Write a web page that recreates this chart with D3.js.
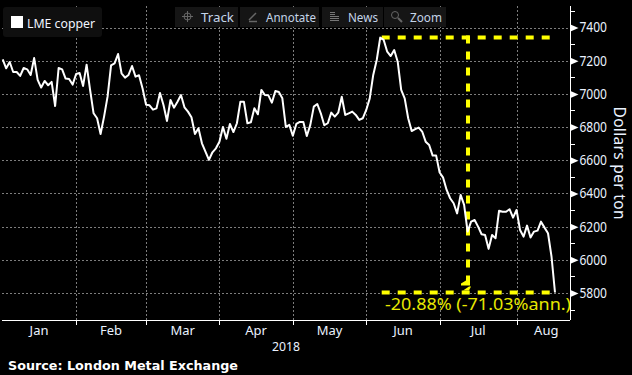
<!DOCTYPE html>
<html>
<head>
<meta charset="utf-8">
<script src="https://cdn.jsdelivr.net/npm/d3@7"></script>
<style>
  html, body { margin: 0; padding: 0; background: #000; overflow: hidden; }
  text { font-family: "Noto Sans", "DejaVu Sans", sans-serif; }
</style>
</head>
<body>
<div id="okvir"></div>
<script>
// LME copper prices, one per trading day from 3 Jan 2018
const copperPrices = [
  7208, 7154, 7192, 7132, 7132, 7108, 7156, 7148, 7114, 7216,
  7084, 7038, 7078, 7052, 7072, 6927, 7156, 7148, 7092, 7090,
  7056, 7120, 7126, 7048, 7176, 7024, 6883, 6853, 6758, 6863,
  6983, 7172, 7184, 7240, 7124, 7098, 7114, 7168, 7104, 7112,
  7034, 6935, 6931, 6905, 6913, 7005, 6933, 6837, 6963, 6917,
  6953, 6993, 6919, 6893, 6859, 6758, 6793, 6702, 6652, 6602,
  6648, 6672, 6712, 6801, 6730, 6819, 6770, 6823, 6953, 6953,
  6823, 6829, 6913, 6877, 7024, 6993, 6991, 6947, 7017, 7011,
  6973, 6801, 6813, 6748, 6819, 6831, 6831, 6746, 6813, 6923,
  6939, 6883, 6811, 6823, 6887, 6863, 6887, 6983, 6873, 6883,
  6893, 6873, 6843, 6853, 6903, 6973, 7114, 7204, 7339, 7325,
  7254, 7228, 7264, 7194, 7024, 6973, 6853, 6776, 6787, 6797,
  6773, 6712, 6692, 6628, 6628, 6526, 6495, 6421, 6371, 6341,
  6280, 6391, 6331, 6170, 6230, 6240, 6200, 6154, 6150, 6066,
  6150, 6130, 6296, 6290, 6290, 6305, 6254, 6300, 6180, 6140,
  6206, 6134, 6170, 6176, 6230, 6194, 6160, 6020, 5803,
]
const lmeHolidays = ["2018-03-30", "2018-05-07", "2018-05-28"]
const monthLabels = ["Jan", "Feb", "Mar", "Apr", "May", "Jun", "Jul", "Aug"]
const yMajorTicks = [5800, 6000, 6200, 6400, 6600, 6800, 7000, 7200, 7400]
const yMinorTicks = [5700, 5900, 6100, 6300, 6500, 6700, 6900, 7100, 7300, 7500]
const toolbarItems = ["Track", "Annotate", "News", "Zoom"]
const peakPrice = 7339
const lowPrice = 5803
const changeLabel = "-20.88% (-71.03%ann.)"
const seriesName = "LME copper"
const yearLabel = "2018"
const yTitle = "Dollars per ton"
const sourceLabel = "Source: London Metal Exchange"

const sirina = 632
const visina = 375
const os = { left: 2, right: 570, bottom: 320, top: 6 }

const fmtDay = d3.utcFormat("%Y-%m-%d")
const tradingDays = d3.utcDays(new Date(Date.UTC(2018, 0, 3)), new Date(Date.UTC(2018, 8, 1)))
  .filter(d => d.getUTCDay() % 6 !== 0 && !lmeHolidays.includes(fmtDay(d)))
  .slice(0, copperPrices.length)

const data = tradingDays.map((d, i) => ({ date: d, price: copperPrices[i] }))

const xSkala = d3.scalePoint().domain(tradingDays).range([2.7, 555])
const ySkala = d3.scaleLinear().domain([5800, 7400]).range([293, 27.5])

// first trading day of each month after January carries the tick
const monthStarts = d3.range(1, 8).map(m => tradingDays.find(d => d.getUTCMonth() === m))
const tickXs = monthStarts.map(d => xSkala(d))
const monthEdges = [os.left, ...tickXs, os.right + 6]

const okvir = d3.select("#okvir").append("svg")
    .attr("width", sirina)
    .attr("height", visina)
    .style("display", "block")
    .style("background", "#000")

// mreza
const mreza = okvir.append("g")
  .attr("stroke", "#7d7d7d")
  .attr("stroke-dasharray", "2 2")
  .attr("shape-rendering", "crispEdges")
mreza.selectAll(".h").data(yMajorTicks).join("line")
    .attr("x1", os.left).attr("x2", os.right)
    .attr("y1", d => Math.round(ySkala(d)) + 0.5)
    .attr("y2", d => Math.round(ySkala(d)) + 0.5)
mreza.selectAll(".v").data(tickXs).join("line")
    .attr("x1", d => Math.round(d) + 0.5).attr("x2", d => Math.round(d) + 0.5)
    .attr("y1", os.top).attr("y2", os.bottom)

// legenda
okvir.append("rect")
    .attr("x", 3).attr("y", 7).attr("width", 99).attr("height", 30).attr("rx", 3)
    .attr("fill", "#0f0f0f")
okvir.append("rect")
    .attr("x", 11).attr("y", 16).attr("width", 12).attr("height", 12)
    .attr("fill", "#fff")
okvir.append("text")
    .attr("x", 27).attr("y", 28)
    .attr("font-size", 12.5).attr("fill", "#f2f6ff")
    .attr("textLength", 68).attr("lengthAdjust", "spacingAndGlyphs")
    .text(seriesName)

// traka s alatima
const toolbarBoxes = [[175, 63], [240, 79], [322, 61], [384, 62]]
const toolbarText = [[201, 33], [266, 50], [348, 30], [410, 32]]
const alati = okvir.append("g").selectAll("g").data(toolbarItems).join("g")
alati.append("rect")
    .attr("x", (d, i) => toolbarBoxes[i][0])
    .attr("y", 7)
    .attr("width", (d, i) => toolbarBoxes[i][1])
    .attr("height", 20)
    .attr("fill", "#151515")
alati.append("text")
    .attr("x", (d, i) => toolbarText[i][0])
    .attr("y", 21.5)
    .attr("font-size", 12.5).attr("fill", "#c4d4e8")
    .attr("textLength", (d, i) => toolbarText[i][1])
    .attr("lengthAdjust", "spacingAndGlyphs")
    .text(d => d)

const ikone = okvir.append("g")
  .attr("fill", "none").attr("stroke", "#666").attr("stroke-width", 1)
// track
ikone.append("circle").attr("cx", 187.5).attr("cy", 16.5).attr("r", 3.5)
ikone.append("path").attr("d", "M187.5 11v11M182 16.5h11")
// annotate
ikone.append("path").attr("d", "M249 20l7-7M249 21.5h8").attr("stroke-width", 1.5)
// news
ikone.append("path").attr("d", "M330 12.5h5M330 14.5h5M330 16.5h9M330 18.5h9M330 20.5h9").attr("stroke", "#777")
// zoom
ikone.append("circle").attr("cx", 395).attr("cy", 15).attr("r", 3.5)
ikone.append("path").attr("d", "M398 18l4 4").attr("stroke-width", 2)

// zuta mjerenja
const zuta = okvir.append("g")
  .attr("fill", "none").attr("stroke", "#ffff00")
  .attr("stroke-width", 4).attr("stroke-dasharray", "8 8")
zuta.selectAll("line.h").data([peakPrice, lowPrice]).join("line")
    .attr("x1", 381.7).attr("x2", 550)
    .attr("y1", d => ySkala(d)).attr("y2", d => ySkala(d))
zuta.append("line")
    .attr("x1", 468).attr("x2", 468)
    .attr("y1", ySkala(peakPrice) - 2).attr("y2", ySkala(lowPrice) - 10)
okvir.append("path")
    .attr("fill", "#ffff00")
    .attr("d", `M461 ${ySkala(lowPrice) - 9}l5 -3h4v5h-9zM463 ${ySkala(lowPrice) - 2}l6 -4h2l-2 4z`)

// cijena
const linija = d3.line().x(d => xSkala(d.date)).y(d => ySkala(d.price))
okvir.append("path")
    .datum(data)
    .attr("d", linija)
    .attr("fill", "none")
    .attr("stroke", "#fff")
    .attr("stroke-width", 2)
    .attr("stroke-linejoin", "round")

okvir.append("text")
    .attr("x", 385).attr("y", 310)
    .attr("font-size", 16.5).attr("fill", "#e8e800")
    .attr("textLength", 186).attr("lengthAdjust", "spacingAndGlyphs")
    .text(changeLabel)

// x os
const xOs = okvir.append("g")
    .attr("transform", `translate(0,${os.bottom + 0.5})`)
    .call(d3.axisBottom(xSkala).tickValues(monthStarts).tickSize(4).tickFormat(""))
    .attr("shape-rendering", "crispEdges")
xOs.select(".domain").attr("d", `M${os.left},0H${os.right}`).attr("stroke", "#fff").attr("stroke-width", 1)
xOs.selectAll(".tick line").attr("stroke", "#fff")

okvir.append("g").selectAll("text").data(monthLabels).join("text")
    .attr("x", (d, i) => (monthEdges[i] + monthEdges[i + 1]) / 2)
    .attr("y", 335)
    .attr("text-anchor", "middle")
    .attr("font-size", 13).attr("fill", "#eaf2ff")
    .text(d => d)

okvir.append("text")
    .attr("x", 286).attr("y", 351)
    .attr("text-anchor", "middle")
    .attr("font-size", 13).attr("fill", "#eaf2ff")
    .attr("textLength", 28).attr("lengthAdjust", "spacingAndGlyphs")
    .text(yearLabel)

// y os
const yOs = okvir.append("g")
    .attr("transform", `translate(${os.right + 0.5},0)`)
    .call(d3.axisRight(ySkala).tickValues(yMajorTicks).tickSize(0).tickPadding(9).tickFormat(d3.format("d")))
yOs.select(".domain").attr("d", `M0,${os.top}V${os.bottom}`).attr("stroke", "#fff").attr("shape-rendering", "crispEdges")
yOs.selectAll(".tick text")
    .attr("font-size", 14).attr("fill", "#eaf2ff")
    .attr("textLength", 27.5).attr("lengthAdjust", "spacingAndGlyphs")
    .style("font-family", '"Noto Sans", "DejaVu Sans", sans-serif')
yOs.selectAll(".tick").append("path")
    .attr("d", "M0,-3.5L8,0L0,3.5Z")
    .attr("fill", "#fff")
okvir.append("g")
    .attr("transform", `translate(${os.right + 0.5},0)`)
  .selectAll("line").data(yMinorTicks).join("line")
    .attr("x2", 4)
    .attr("y1", d => Math.round(ySkala(d)) + 0.5)
    .attr("y2", d => Math.round(ySkala(d)) + 0.5)
    .attr("stroke", "#fff")
    .attr("shape-rendering", "crispEdges")

okvir.append("text")
    .attr("transform", "translate(614,163) rotate(90)")
    .attr("text-anchor", "middle")
    .attr("font-size", 15.5).attr("fill", "#eaf2ff")
    .attr("textLength", 113).attr("lengthAdjust", "spacing")
    .text(yTitle)

// izvor
okvir.append("text")
    .attr("x", 8).attr("y", 370)
    .attr("font-size", 13).attr("font-weight", "bold")
    .attr("fill", "#fff")
    .attr("textLength", 230).attr("lengthAdjust", "spacingAndGlyphs")
    .style("font-family", '"DejaVu Sans", sans-serif')
    .text(sourceLabel)
</script>
</body>
</html>
